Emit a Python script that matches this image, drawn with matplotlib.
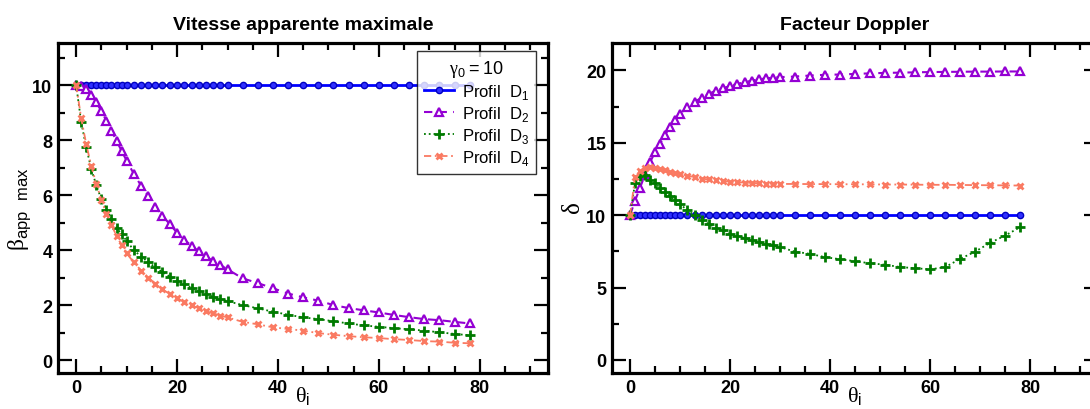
import matplotlib
matplotlib.use('Agg')
from matplotlib import pyplot as plt
from matplotlib.ticker import MultipleLocator

plt.rcParams['font.family'] = ['Liberation Sans', 'DejaVu Sans']
plt.rcParams['mathtext.fontset'] = 'custom'
plt.rcParams['mathtext.rm'] = 'Liberation Serif'
plt.rcParams['mathtext.sf'] = 'Liberation Sans'

# Angles d'injection (degres)
theta = [0, 1, 2, 3, 4, 5, 6, 7, 8, 9, 10,
         11.4, 12.9, 14.3, 15.7, 17.1, 18.6, 20, 21.4, 22.9, 24.3, 25.7, 27.1, 28.6, 30,
         33, 36, 39, 42, 45, 48, 51, 54, 57, 60, 63, 66, 69, 72, 75, 78]

# Vitesse apparente maximale
beta_d1 = [10] * 41
beta_d2 = [10, 9.95, 9.85, 9.64, 9.37, 9.05, 8.7, 8.34, 7.97, 7.61, 7.25,
           6.78, 6.33, 5.95, 5.58, 5.25, 4.93, 4.63, 4.38, 4.15, 3.95, 3.77, 3.6, 3.45, 3.3,
           2.97, 2.8, 2.61, 2.42, 2.28, 2.16, 2.0, 1.89, 1.81, 1.73, 1.64, 1.56, 1.49, 1.45, 1.39, 1.33]
beta_d3 = [10, 8.65, 7.73, 6.95, 6.35, 5.85, 5.47, 5.12, 4.82, 4.57, 4.34,
           4.0, 3.76, 3.56, 3.37, 3.2, 3.03, 2.88, 2.75, 2.62, 2.5, 2.4, 2.3, 2.22, 2.14,
           2.0, 1.88, 1.76, 1.65, 1.55, 1.49, 1.41, 1.33, 1.26, 1.21, 1.16, 1.12, 1.07, 1.01, 0.95, 0.9]
beta_d4 = [10, 8.79, 7.85, 7.05, 6.4, 5.83, 5.31, 4.91, 4.52, 4.18, 3.88,
           3.56, 3.25, 3.0, 2.77, 2.57, 2.4, 2.25, 2.11, 1.99, 1.88, 1.78, 1.7, 1.62, 1.55,
           1.39, 1.3, 1.19, 1.13, 1.07, 0.98, 0.92, 0.87, 0.83, 0.8, 0.76, 0.73, 0.69, 0.67, 0.63, 0.61]

# Facteur Doppler
delta_d1 = [10] * 41
delta_d2 = [10, 11.0, 11.9, 12.8, 13.66, 14.35, 14.95, 15.55, 16.1, 16.58, 17.0,
            17.45, 17.82, 18.12, 18.38, 18.6, 18.77, 18.93, 19.07, 19.18, 19.3, 19.38, 19.45, 19.5, 19.54,
            19.58, 19.65, 19.7, 19.72, 19.76, 19.8, 19.83, 19.85, 19.87, 19.89, 19.9, 19.91, 19.92, 19.92, 19.93, 19.93]
delta_d3 = [10, 12.2, 12.74, 12.75, 12.45, 12.2, 11.9, 11.6, 11.33, 11.05, 10.78,
            10.35, 10.0, 9.68, 9.4, 9.15, 8.95, 8.72, 8.58, 8.42, 8.28, 8.15, 8.04, 7.92, 7.8,
            7.48, 7.33, 7.1, 6.96, 6.82, 6.68, 6.58, 6.42, 6.34, 6.26, 6.41, 6.98, 7.48, 8.09, 8.59, 9.17]
delta_d4 = [10, 12.62, 13.08, 13.25, 13.35, 13.28, 13.2, 13.1, 13.01, 12.92, 12.85,
            12.74, 12.63, 12.53, 12.47, 12.41, 12.35, 12.32, 12.29, 12.25, 12.23, 12.21, 12.19, 12.17, 12.16,
            12.16, 12.15, 12.15, 12.14, 12.14, 12.13, 12.12, 12.12, 12.11, 12.1, 12.1, 12.09, 12.08, 12.07, 12.06, 12.05]

labels = [r'Profil  D$_\mathsf{1}$', r'Profil  D$_\mathsf{2}$',
          r'Profil  D$_\mathsf{3}$', r'Profil  D$_\mathsf{4}$']

bleu = '#0000ff'
violet = '#9400d3'
vert = '#007a00'
saumon = '#fa7a62'


def tracer(ax, d1, d2, d3, d4):
    ax.plot(theta, d1, '-', color=bleu, lw=2, marker='o', ms=4.5,
            mfc='#3030ff', mec='#0000c0', mew=1, label=labels[0])
    ax.plot(theta, d2, '--', color=violet, lw=1.5, dashes=(4, 3), marker='^', ms=6,
            mfc='white', mec=violet, mew=1.6, label=labels[1])
    ax.plot(theta, d3, ':', color=vert, lw=1.3, marker='+', ms=7,
            mew=2, label=labels[2])
    ax.plot(theta, d4, '-.', color=saumon, lw=1.3, dashes=(4, 2, 1, 2), marker='x', ms=5,
            mew=2, label=labels[3])


def habiller(ax):
    ax.set_xlim(-3.6, 93.5)
    ax.xaxis.set_major_locator(MultipleLocator(20))
    ax.xaxis.set_minor_locator(MultipleLocator(5))
    ax.tick_params(which='both', direction='in', top=True, right=True, width=1.6)
    ax.tick_params(which='major', length=10, labelsize=13, pad=4)
    ax.tick_params(which='minor', length=5)
    for lab in ax.get_xticklabels() + ax.get_yticklabels():
        lab.set_fontweight('bold')
    for s in ax.spines.values():
        s.set_linewidth(2.3)
    ax.set_xlabel(r'$\mathrm{\theta}_\mathsf{i}$', fontsize=16)
    ax.xaxis.set_label_coords(0.5, -0.035, transform=ax.transAxes)
    ax.xaxis.label.set_va('top')


fig = plt.figure(figsize=(10.9, 4.1), dpi=100)
ax1 = fig.add_axes([0.0532, 0.0878, 0.4495, 0.805])
ax2 = fig.add_axes([0.5615, 0.0878, 0.4454, 0.805])

tracer(ax1, beta_d1, beta_d2, beta_d3, beta_d4)
ax1.set_ylim(-0.47, 11.53)
ax1.yaxis.set_major_locator(MultipleLocator(2))
ax1.yaxis.set_minor_locator(MultipleLocator(1))
habiller(ax1)
ax1.set_title('Vitesse apparente maximale', fontsize=14, fontweight='bold', pad=10)
ax1.set_ylabel(r'$\mathrm{\beta}_\mathsf{app\ \ max}$', fontsize=17)
ax1.yaxis.set_label_coords(-0.05, 0.5)

leg = ax1.legend(loc='upper right', bbox_to_anchor=(0.983, 0.985), fontsize=12,
                 title=r'$\mathrm{\gamma}_\mathsf{0}\mathsf{ = 10}$', title_fontsize=13,
                 numpoints=1, handlelength=1.8, handletextpad=0.5, labelspacing=0.18,
                 borderpad=0.4, borderaxespad=0.2, frameon=True, fancybox=False,
                 edgecolor='black')
leg.get_frame().set_linewidth(1.0)

tracer(ax2, delta_d1, delta_d2, delta_d3, delta_d4)
ax2.set_ylim(-0.9, 21.9)
ax2.yaxis.set_major_locator(MultipleLocator(5))
ax2.yaxis.set_minor_locator(MultipleLocator(2.5))
habiller(ax2)
ax2.set_title('Facteur Doppler', fontsize=14, fontweight='bold', pad=10)
ax2.set_ylabel(r'$\mathrm{\delta}$', fontsize=18)
ax2.yaxis.set_label_coords(-0.055, 0.5)

fig.savefig('out.png', dpi=100)
